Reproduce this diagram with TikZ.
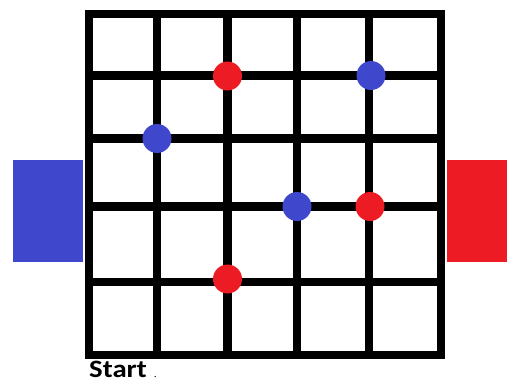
\documentclass[tikz,border=0pt]{standalone}
\usepackage{fontspec}
\setmainfont{Carlito}
\usepackage{xcolor}
\usepackage{tikz}
\usetikzlibrary{positioning}
\definecolor{paintblue}{RGB}{63, 72, 204}
\definecolor{paintred}{RGB}{237, 28, 36}

\tikzset{
  gridline/.style={line width=8.5pt, black},
  stone/.style={circle, inner sep=0pt, minimum size=29pt},
  goal/.style={rectangle, inner sep=0pt, minimum width=70pt, minimum height=102pt, anchor=north west}
}

\begin{document}
\begin{tikzpicture}[x=1pt, y=-1pt]
  \useasboundingbox (0,0) rectangle (507,383);
  % goals on both sides
  \node[goal, fill=paintblue] (bluegoal) at (13,160) {};
  \node[goal, fill=paintred, minimum width=60pt] (redgoal) at (447,160) {};
  % the board
  \foreach \gx in {157,227.5,297,369}
    \draw[gridline] (\gx,14) -- (\gx,355);
  \foreach \gy in {75.5,138.5,206.5,282}
    \draw[gridline] (89,\gy) -- (441,\gy);
  \draw[gridline] (89,14) rectangle (441,355);
  % stones
  \node[stone, fill=paintred] (redA) at (227.5,76) {};
  \node[stone, fill=paintblue] (blueA) at (371,75.5) {};
  \node[stone, fill=paintblue] (blueB) at (157,138.5) {};
  \node[stone, fill=paintblue] (blueC) at (297,206.5) {};
  \node[stone, fill=paintred] (redB) at (370,206.5) {};
  \node[stone, fill=paintred] (redC) at (227.5,279) {};
  % label
  \node[anchor=base west, inner sep=0pt, xscale=1.15, font=\bfseries\fontsize{25}{25}\selectfont]
    (start) at (89,377) {Start\hspace{6pt}{\mdseries\fontsize{10}{10}\selectfont.}};
\end{tikzpicture}
\end{document}
